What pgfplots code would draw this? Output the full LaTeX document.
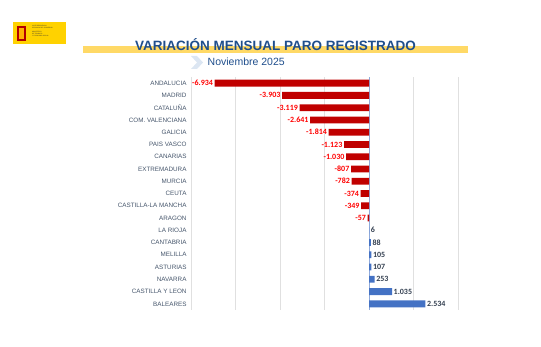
\documentclass[border=0pt]{standalone}
\usepackage{pgfplots}
\pgfplotsset{compat=1.18}
\usepackage{fontspec}
\setmainfont{Liberation Sans}
\newfontfamily\calfont{Carlito}
\definecolor{titleblue}{HTML}{1F4E8C}
\definecolor{bandyellow}{HTML}{FFD966}
\definecolor{chev}{HTML}{DCE6F2}
\definecolor{logoyellow}{HTML}{FFD200}
\definecolor{barred}{HTML}{C00000}
\definecolor{barblue}{HTML}{4472C4}
\definecolor{labred}{HTML}{FF0000}
\definecolor{catgray}{HTML}{44546A}
\definecolor{posgray}{HTML}{333F50}
\definecolor{zeroline}{HTML}{8FAADC}
\begin{document}
\begin{tikzpicture}[x=1pt,y=1pt]
\path[use as bounding box] (0,0) rectangle (541,346);
% logo
\fill[logoyellow] (13,302) rectangle (66,324);
\fill[red!70!black] (16.5,305) rectangle (25.5,320);
\fill[logoyellow!60!orange] (18.5,307) rectangle (23.5,318);
\node[anchor=north west, inner sep=0pt, align=left, font=\fontsize{1.6}{2}\selectfont, text=black!80] at (32,320.5) {VICEPRESIDENCIA\\SEGUNDA DEL GOBIERNO\\[1.5pt] MINISTERIO\\DE TRABAJO\\Y ECONOMÍA SOCIAL};
% title band and title
\fill[bandyellow] (83,293) rectangle (468,300);
\node[font=\bfseries\fontsize{13.5}{15}\selectfont, text=titleblue, inner sep=0pt] at (275.5,301.5) {VARIACIÓN MENSUAL PARO REGISTRADO};
% chevron
\fill[chev] (191,290) -- (197,290) -- (203,283.5) -- (197,277) -- (191,277) -- (197,283.5) -- cycle;
\node[anchor=west, font=\fontsize{10.5}{12}\selectfont, text=titleblue, inner sep=0pt] at (207.5,284) {Noviembre 2025};
\begin{axis}[
  at={(191pt,36pt)}, anchor=south west, scale only axis,
  width=267pt, height=233pt,
  xmin=-8000, xmax=4000, ymin=-0.5, ymax=18.5, y dir=reverse,
  xbar, bar width=6.8pt, bar shift=0pt,
  xtick={-8000,-6000,...,4000}, xticklabels={},
  xmajorgrids, grid style={draw=black!12, line width=0.5pt},
  extra x ticks={0}, extra x tick labels={}, extra x tick style={grid style={draw=zeroline, line width=0.8pt}},
  ytick={0,...,18},
  yticklabels={ANDALUCIA,MADRID,CATALUÑA,COM. VALENCIANA,GALICIA,PAIS VASCO,CANARIAS,EXTREMADURA,MURCIA,CEUTA,CASTILLA-LA MANCHA,ARAGON,LA RIOJA,CANTABRIA,MELILLA,ASTURIAS,NAVARRA,CASTILLA Y LEON,BALEARES},
  yticklabel style={font=\fontsize{6.3}{7}\selectfont, text=catgray, xshift=-1pt},
  axis line style={draw=none}, major tick length=0pt,
  clip=false,
]
\addplot[fill=barred, draw=none, nodes near coords, point meta=explicit symbolic,
  every node near coord/.append style={anchor=east, inner sep=1.5pt, font=\calfont\bfseries\fontsize{8}{9}\selectfont, text=labred}]
  table[x=x, y=y, meta=lab] {
y x lab
0 -6934 -6.934
1 -3903 -3.903
2 -3119 -3.119
3 -2641 -2.641
4 -1814 -1.814
5 -1123 -1.123
6 -1030 -1.030
7 -807 -807
8 -782 -782
9 -374 -374
10 -349 -349
11 -57 -57
};
\addplot[fill=barblue, draw=none, nodes near coords, point meta=explicit symbolic,
  every node near coord/.append style={anchor=west, inner sep=1.5pt, font=\calfont\bfseries\fontsize{8}{9}\selectfont, text=posgray}]
  table[x=x, y=y, meta=lab] {
y x lab
12 6 6
13 88 88
14 105 105
15 107 107
16 253 253
17 1035 1.035
18 2534 2.534
};
\end{axis}
\end{tikzpicture}
\end{document}
